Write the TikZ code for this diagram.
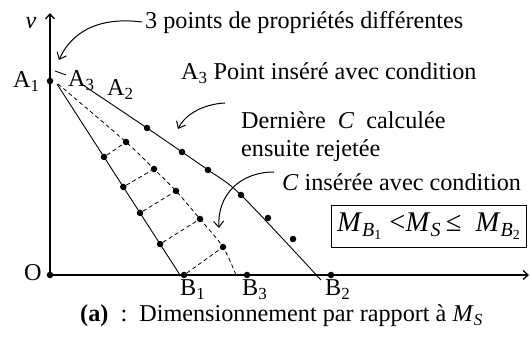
\documentclass[tikz,border=0pt]{standalone}
\usepackage{fontspec}
\setmainfont{Liberation Serif}
\usetikzlibrary{arrows.meta}

\begin{document}
\begin{tikzpicture}[x=1pt, y=-1pt,
    dot/.style={circle, fill, inner sep=0pt, minimum size=6.5pt},
    lbl/.style={inner sep=0pt, anchor=base west, font=\fontsize{24.2}{27}\selectfont},
    axis/.style={line width=1.3pt, -{Straight Barb[length=5pt,width=9pt]}},
    curve/.style={line width=0.9pt},
    rung/.style={line width=0.8pt, dash pattern=on 4pt off 3pt},
    note/.style={line width=1pt, -{Straight Barb[length=6pt,width=10pt]}},
]
\useasboundingbox (0,0) rectangle (530,344);

% Axes
\node[dot] (O) at (50,275) {};
\coordinate (vtip) at (50,13);
\coordinate (htip) at (529,275);
\draw[axis] (O.center) -- (vtip);
\draw[axis] (O.center) -- (htip);
\node[font=\fontsize{24.2}{27}\selectfont\itshape, inner sep=0pt] (v) at (31,23) {v};
\node[lbl] (Olbl) at (24,281) {O};

% Points on the axes
\node[dot] (A1) at (50,81) {};
\node[dot] (B1) at (184,275) {};
\node[dot] (B3) at (247,275) {};
\node[dot] (B2) at (331,275) {};
\node[lbl] (A1lbl) at (13,88) {A\textsubscript{1}};
\node[lbl] (A3lbl) at (68,87) {A\textsubscript{3}};
\node[lbl] (A2lbl) at (107,96) {A\textsubscript{2}};
\node[lbl] (B1lbl) at (180,296) {B\textsubscript{1}};
\node[lbl] (B3lbl) at (242,296) {B\textsubscript{3}};
\node[lbl] (B2lbl) at (325,296) {B\textsubscript{2}};

% Inner line A1 -> B1
\coordinate (i0) at (57,84);
\coordinate (iE) at (180,275);
\draw[curve] (i0) -- (iE);
\path (i0) -- (iE)
  node[dot, pos=.382] (i1) {}
  node[dot, pos=.539] (i2) {}
  node[dot, pos=.675] (i3) {}
  node[dot, pos=.838] (i4) {};

% Dashed line A3 -> B3
\coordinate (m0) at (58,84);
\coordinate (mE) at (236,275);
\foreach \n/\x/\y in {m1/126/142, m2/154/169, m3/176/191, m4/200/219, m5/223/247}
  \node[dot] (\n) at (\x,\y) {};
\draw[rung] plot[smooth] coordinates {(m0) (m1.center) (m2.center) (m3.center) (m4.center) (m5.center) (mE)};

% Rungs
\draw[rung] (i1) -- (m1);
\draw[rung] (i2) -- (m2);
\draw[rung] (i3) -- (m3);
\draw[rung] (i4) -- (m4);
\draw[rung] (B1) -- (m5);

% Outer line A2 -> B2
\coordinate (o0) at (80,83);
\coordinate (oE) at (321,280);
\foreach \n/\x/\y in {o1/147/128, o2/182/152, o3/208/170, o4/241/195, p1/268/218, p2/293/239}
  \node[dot] (\n) at (\x,\y) {};
\draw[curve] plot[smooth] coordinates {(o0) (o1.center) (o2.center) (o3.center) (o4.center) (oE)};
\coordinate (s0) at (55,71);
\coordinate (s1) at (66,75);
\draw[curve] (s0) -- (s1);

% Notes
\node[lbl] (t1) at (145,29) {3 points de propriétés différentes};
\node[lbl] (t2) at (181,80) {A\textsubscript{3}\ Point inséré avec condition};
\node[lbl] (t3) at (241,129) {Dernière\ \ \textit{C}\ \ calculée};
\node[lbl] (t4) at (241,157) {ensuite rejetée};
\node[lbl] (t5) at (282,191) {\textit{C} insérée avec condition};
\node[draw, line width=0.8pt, inner sep=0pt, minimum width=195pt, minimum height=42pt,
  font=\fontsize{28.5}{30}\selectfont] (cond) at (429,226)
  {\textit{M}\textsubscript{\textit{B}\textsubscript{1}}\ {<}\textit{M}\textsubscript{\textit{S}}\,≤\ \ \textit{M}\textsubscript{\textit{B}\textsubscript{2}}};

\coordinate (n1s) at (142,22);
\coordinate (n1e) at (59,60);
\draw[note] (n1s) .. controls (95,16) and (70,35) .. (n1e);
\coordinate (n2s) at (225,103);
\coordinate (n2e) at (178,129);
\draw[note] (n2s) .. controls (205,104) and (186,113) .. (n2e);
\coordinate (n3s) at (274,172);
\coordinate (n3e) at (219,228);
\draw[note] (n3s) .. controls (240,172) and (217,195) .. (n3e);

% Caption
\node[lbl] (cap) at (80,322) {\textbf{(a)}\ \ :\ \ Dimensionnement par rapport à \textit{M}\textsubscript{\textit{S}}};
\end{tikzpicture}
\end{document}
